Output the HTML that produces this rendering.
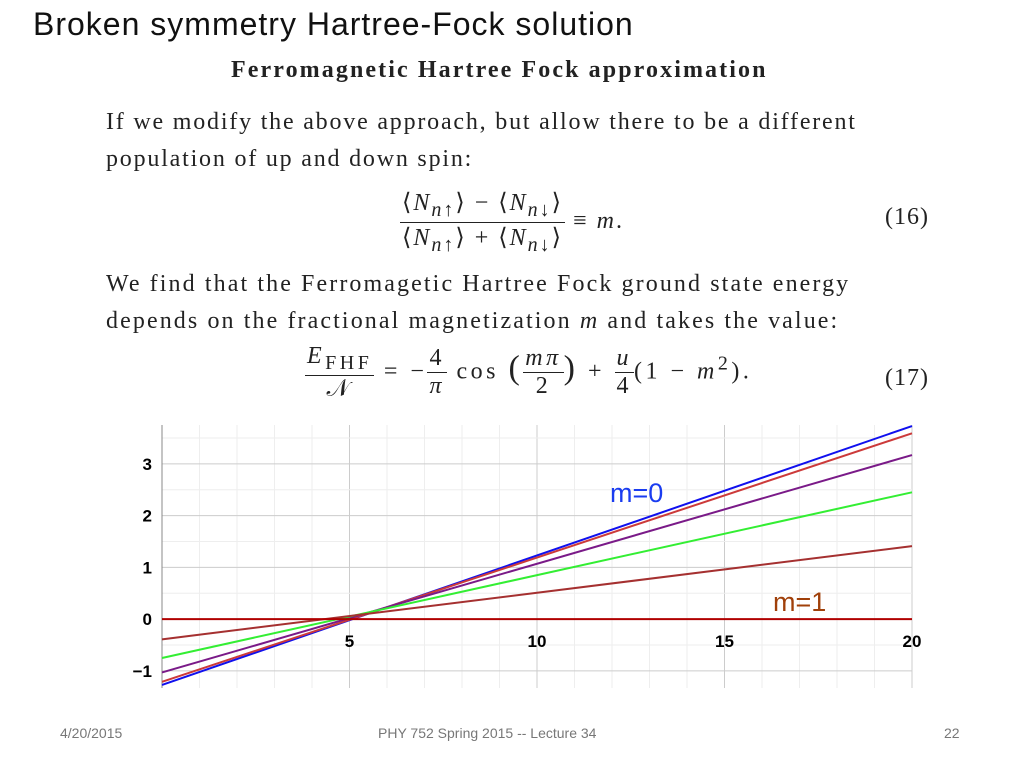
<!DOCTYPE html>
<html><head><meta charset="utf-8"><style>
body{margin:0;width:1024px;height:768px;background:#fff;position:relative;overflow:hidden;font-family:"Liberation Sans",sans-serif}
.abs{position:absolute;white-space:nowrap}
.serif{font-family:"Liberation Serif",serif;color:#222}
.frac{display:inline-block;vertical-align:middle;text-align:center}
.frac span{display:block}
.frac .num{border-bottom:1px solid #222;padding:0 2px}
</style></head><body>
<div class="abs" style="left:33px;top:6px;font-size:32px;letter-spacing:1px;color:#111">Broken symmetry Hartree-Fock solution</div>
<div class="abs serif" style="left:231px;top:57px;font-size:24px;letter-spacing:2.1px;font-weight:bold">Ferromagnetic Hartree Fock approximation</div>
<div class="abs serif" style="left:106px;top:104px;font-size:24px;letter-spacing:1.8px;line-height:37px">If we modify the above approach, but allow there to be a different<br>population of up and down spin:</div>
<div class="abs serif" style="left:400px;top:188px;font-size:24px;letter-spacing:2px">
<span class="frac"><span class="num">⟨<i>N</i><sub><i>n</i>↑</sub>⟩ − ⟨<i>N</i><sub><i>n</i>↓</sub>⟩</span><span>⟨<i>N</i><sub><i>n</i>↑</sub>⟩ + ⟨<i>N</i><sub><i>n</i>↓</sub>⟩</span></span> ≡ <i>m</i>.</div>
<div class="abs serif" style="left:885px;top:204px;font-size:24px;letter-spacing:1px">(16)</div>
<div class="abs serif" style="left:106px;top:266px;font-size:24px;letter-spacing:2.1px;line-height:37px">We find that the Ferromagetic Hartree Fock ground state energy<br>depends on the fractional magnetization <i>m</i> and takes the value:</div>
<div class="abs serif" style="left:305px;top:343px;font-size:24px;letter-spacing:3.5px">
<span class="frac"><span class="num"><i>E</i><sub>FHF</sub></span><span>𝒩</span></span> = −<span class="frac"><span class="num">4</span><span><i>π</i></span></span> cos <span style="font-size:34px">(</span><span class="frac"><span class="num"><i>mπ</i></span><span>2</span></span><span style="font-size:34px">)</span> + <span class="frac"><span class="num"><i>u</i></span><span>4</span></span>(1 − <i>m</i><sup>2</sup>).</div>
<div class="abs serif" style="left:885px;top:365px;font-size:24px;letter-spacing:1px">(17)</div>

<svg id="chart" class="abs" style="left:0;top:0" width="1024" height="768"></svg>

<div class="abs" style="left:60px;top:725px;font-size:14px;color:#777">4/20/2015</div>
<div class="abs" style="left:378px;top:725px;font-size:14px;color:#777">PHY 752  Spring 2015 -- Lecture 34</div>
<div class="abs" style="left:944px;top:725px;font-size:14px;color:#777">22</div>
<script>
const seriesNames=["m=0","m=0.2","m=0.4","m=0.6","m=0.8","m=1"];
const valuesAtU0=[-1.27,-1.21,-1.03,-0.75,-0.39,0];
const valuesAtU20=[3.73,3.59,3.17,2.45,1.41,0];
const seriesColors=["#1010ee","#cc3a3a","#7a1a88","#33ee33","#a53030","#b00000"];
const xTicks=[5,10,15,20];
const yTicks=[-1,0,1,2,3];
const ns="http://www.w3.org/2000/svg";
const svg=document.getElementById('chart');
const X0=162,X1=912,T=425,B=688,xmin=0,xmax=20,ymin=-1.33,ymax=3.75;
const xs=v=>X0+(v-xmin)/(xmax-xmin)*(X1-X0);
const ys=v=>B-(v-ymin)/(ymax-ymin)*(B-T);
function mk(tag,attrs){const e=document.createElementNS(ns,tag);for(const k in attrs)e.setAttribute(k,attrs[k]);svg.appendChild(e);return e;}
for(let u=1;u<=20;u++){const l=mk('line',{x1:xs(u),x2:xs(u),y1:T,y2:B,stroke:u%5?'#eee':'#ccc','stroke-width':1});

}
for(let v=-1;v<=3.5;v+=0.5){const l=mk('line',{x1:X0,x2:X1,y1:ys(v),y2:ys(v),stroke:Number.isInteger(v)?'#ccc':'#eee','stroke-width':1});

}
const ax=mk('line',{x1:X0,x2:X0,y1:T,y2:B,stroke:'#888','stroke-width':1});


xTicks.forEach(t=>{const e=mk('text',{x:xs(t),y:ys(0)+28,'text-anchor':'middle','font-size':17,'font-weight':'bold','font-family':'Liberation Sans, sans-serif'});e.textContent=t;

});
yTicks.forEach(t=>{const e=mk('text',{x:X0-10,y:ys(t)+6,'text-anchor':'end','font-size':17,'font-weight':'bold','font-family':'Liberation Sans, sans-serif'});e.textContent=t<0?'−'+(-t):t;

});
seriesNames.forEach((n,i)=>{const l=mk('line',{x1:xs(0),y1:ys(valuesAtU0[i]),x2:xs(20),y2:ys(valuesAtU20[i]),stroke:seriesColors[i],'stroke-width':2});

});
const l0=mk('text',{x:610,y:502,'font-size':27,fill:'#1a3cf0','font-family':'Liberation Sans, sans-serif'});l0.textContent='m=0';


const l1=mk('text',{x:773,y:611,'font-size':27,fill:'#a0400a','font-family':'Liberation Sans, sans-serif'});l1.textContent='m=1';


</script>
</body></html>
